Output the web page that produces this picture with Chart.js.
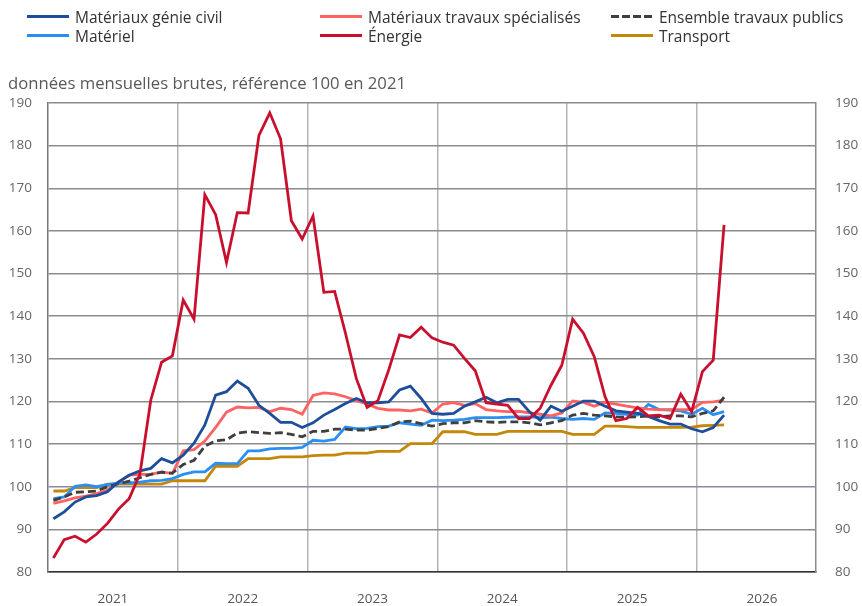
<!DOCTYPE html>
<html>
<head>
<meta charset="utf-8">
<script src="https://cdn.jsdelivr.net/npm/chart.js@4.4.1/dist/chart.umd.min.js"></script>
<style>
  body { margin: 0; background: #fff; font-family: "Open Sans", sans-serif; }
  #wrap { position: relative; width: 862px; height: 606px; }
  #canvas { position: absolute; left: 0; top: 0; }
  .leg { position: absolute; font-size: 15.5px; color: #333; white-space: nowrap; line-height: 20px; }
  .leg i { position: absolute; left: -48px; top: 8px; width: 42px; height: 3px; }
  #sub { position: absolute; left: 8px; top: 71px; font-size: 16.7px; color: #595959; white-space: nowrap; }
</style>
</head>
<body>
<div id="wrap">
  <canvas id="canvas" width="862" height="606"></canvas>
  <div id="legend"></div>
  <div id="sub">données mensuelles brutes, référence 100 en 2021</div>
</div>
<script>
// indices mensuels, janvier 2021 -> mars 2026
const months = [];
for (let y = 2021; y <= 2026; y++) {
  for (let m = 1; m <= 12; m++) {
    if (y === 2026 && m > 3) break;
    months.push(y + "-" + String(m).padStart(2, "0"));
  }
}
const years = ["2021", "2022", "2023", "2024", "2025", "2026"];

const genieCivil = [
  92.5, 94.1, 96.4, 97.6, 97.9, 98.8, 101.1, 102.7, 103.7, 104.3, 106.6, 105.6,
  107.4, 110.2, 114.5, 121.5, 122.3, 124.8, 123.1, 119.1, 117.2, 115.1, 115.1, 113.9,
  115.0, 116.8, 118.1, 119.5, 120.7, 119.7, 119.7, 119.9, 122.7, 123.6, 120.7, 117.2,
  117.0, 117.2, 118.9, 119.9, 121.0, 119.7, 120.5, 120.5, 117.6, 115.6, 118.9, 117.7,
  118.9, 120.1, 120.1, 118.9, 117.8, 117.5, 117.2, 116.5, 115.5, 114.7, 114.7, 113.6,
  112.9, 113.9, 116.8
];
const travauxSpec = [
  96.1, 96.7, 97.4, 97.8, 98.4, 99.2, 101.1, 102.7, 102.9, 102.9, 103.5, 103.1,
  108.4, 108.7, 110.7, 113.9, 117.5, 118.7, 118.5, 118.6, 117.6, 118.4, 118.1, 117.0,
  121.4, 122.0, 121.8, 121.1, 120.2, 119.4, 118.4, 118.0, 118.0, 117.8, 118.2, 117.3,
  119.4, 119.7, 119.1, 119.5, 118.1, 117.8, 117.6, 117.7, 117.3, 117.0, 116.6, 117.3,
  120.1, 119.8, 118.9, 119.8, 119.4, 118.9, 118.5, 118.2, 118.1, 118.1, 118.1, 118.1,
  119.8, 119.9, 120.3
];
const ensemble = [
  96.8, 97.6, 98.7, 98.8, 99.0, 100.0, 100.7, 101.3, 102.1, 102.9, 103.4, 103.2,
  105.2, 106.2, 109.5, 110.8, 111.0, 112.6, 112.9, 112.7, 112.5, 112.7, 112.3, 111.7,
  113.0, 113.0, 113.5, 113.5, 113.3, 113.3, 113.7, 114.1, 115.2, 115.4, 114.8, 114.2,
  114.8, 115.0, 115.0, 115.5, 115.2, 115.1, 115.2, 115.2, 115.0, 114.5, 115.0, 115.5,
  116.8, 117.2, 116.8, 116.6, 116.4, 116.3, 116.4, 116.6, 116.4, 116.6, 116.6, 116.4,
  117.2, 117.8, 121.0
];
const materiel = [
  97.2, 97.6, 100.1, 100.4, 100.0, 100.5, 100.9, 100.9, 101.1, 101.4, 101.5, 101.9,
  102.9, 103.5, 103.5, 105.5, 105.4, 105.4, 108.4, 108.4, 108.9, 109.0, 109.0, 109.2,
  110.9, 110.7, 111.1, 114.0, 113.6, 113.7, 114.1, 114.2, 115.0, 114.7, 114.4, 115.6,
  115.5, 115.6, 115.8, 116.2, 116.2, 116.2, 116.3, 116.4, 116.4, 116.2, 116.3, 116.0,
  115.8, 116.0, 115.8, 117.3, 117.2, 117.0, 116.8, 119.3, 118.1, 118.0, 117.8, 117.0,
  118.4, 116.9, 117.6
];
const energie = [
  83.3, 87.6, 88.4, 87.0, 88.9, 91.4, 94.7, 97.2, 103.0, 120.3, 129.2, 130.7,
  143.8, 139.3, 168.5, 163.8, 152.6, 164.3, 164.2, 182.4, 187.7, 181.6, 162.4, 158.1,
  163.5, 145.6, 145.8, 136.0, 125.4, 118.6, 120.2, 127.4, 135.6, 135.0, 137.4, 134.9,
  133.9, 133.2, 130.1, 127.2, 119.7, 119.4, 119.1, 116.0, 116.0, 118.4, 123.8, 128.5,
  139.3, 136.0, 130.5, 121.1, 115.5, 116.0, 118.6, 116.6, 116.8, 116.0, 121.7, 117.6,
  127.0, 129.7, 161.4
];
const transport = [
  99.0, 99.0, 99.8, 99.8, 99.8, 100.6, 100.6, 100.6, 100.6, 100.6, 100.6, 101.4,
  101.4, 101.4, 101.4, 104.8, 104.8, 104.8, 106.6, 106.6, 106.6, 107.0, 107.0, 107.0,
  107.3, 107.4, 107.4, 107.9, 107.9, 107.9, 108.3, 108.3, 108.3, 110.1, 110.1, 110.1,
  112.9, 112.9, 112.9, 112.3, 112.3, 112.3, 113.0, 113.0, 113.0, 113.0, 113.0, 113.0,
  112.3, 112.3, 112.3, 114.2, 114.2, 114.1, 113.9, 113.9, 113.9, 113.9, 113.9, 114.0,
  114.3, 114.4, 114.5
];

const series = [
  { label: "Matériaux génie civil", data: genieCivil, color: "#1d4e9b", order: 1 },
  { label: "Matériaux travaux spécialisés", data: travauxSpec, color: "#ff6262", order: 3 },
  { label: "Ensemble travaux publics", data: ensemble, color: "#3f3f3f", order: 2, dash: [8, 4] },
  { label: "Matériel", data: materiel, color: "#2b8ff2", order: 4 },
  { label: "Énergie", data: energie, color: "#c8102e", order: 0 },
  { label: "Transport", data: transport, color: "#c3870a", order: 5 },
];

// légende en 3 colonnes
const legCols = [75, 368, 659];
const legRows = [7, 26];
const legend = document.getElementById("legend");
series.forEach((s, k) => {
  const d = document.createElement("div");
  d.className = "leg";
  d.style.left = legCols[k % 3] + "px";
  d.style.top = legRows[Math.floor(k / 3)] + "px";
  const sw = document.createElement("i");
  sw.style.background = s.dash
    ? "repeating-linear-gradient(to right, " + s.color + " 0 8px, transparent 8px 11px)"
    : s.color;
  d.appendChild(sw);
  d.appendChild(document.createTextNode(s.label));
  legend.appendChild(d);
});

const xTicks = [6, 12, 18, 24, 30, 36, 42, 48, 54, 60, 66];
const tickFont = { family: "'Open Sans', sans-serif", size: 13.5 };

const ctx = document.getElementById("canvas").getContext("2d");
const chart = new Chart(ctx, {
  type: "line",
  data: {
    datasets: series.map(s => ({
      label: s.label,
      data: s.data.map((v, i) => ({ x: i + 0.5, y: v })),
      borderColor: s.color,
      backgroundColor: s.color,
      borderWidth: 2.8,
      borderDash: s.dash || [],
      pointRadius: 0,
      tension: 0,
      order: s.order,
    }))
  },
  options: {
    responsive: false,
    animation: false,
    layout: { padding: { top: 103, left: 0, right: 0, bottom: 0 } },
    plugins: { legend: { display: false }, tooltip: { enabled: false } },
    scales: {
      x: {
        type: "linear",
        min: 0,
        max: 71,
        afterBuildTicks: (scale) => { scale.ticks = xTicks.map(v => ({ value: v })); },
        afterFit: (scale) => { scale.height = 34; },
        grid: {
          drawTicks: false,
          lineWidth: 1.5,
          color: (c) => (c.tick && c.tick.value % 12 === 0) ? "#b4b4b4" : "rgba(0,0,0,0)",
        },
        border: { color: "#333", width: 1.5 },
        ticks: {
          autoSkip: false,
          maxRotation: 0,
          padding: 19,
          color: "#555",
          font: tickFont,
          callback: (v) => v % 12 === 6 ? years[(v - 6) / 12] : "",
        },
      },
      y: {
        position: "left",
        min: 80,
        max: 190,
        afterFit: (scale) => { scale.width = 48; },
        grid: {
          drawTicks: false,
          lineWidth: 1.5,
          color: (c) => c.tick && c.tick.value === 100 ? "#8a8aa8" : "#8c8c8c",
        },
        border: { color: "#777", width: 1.5 },
        ticks: { stepSize: 10, padding: 16, color: "#666", font: tickFont },
      },
      y2: {
        position: "right",
        min: 80,
        max: 190,
        afterFit: (scale) => { scale.width = 46; },
        grid: { display: false, drawTicks: false },
        border: { color: "#8c8c8c", width: 1.5 },
        ticks: { stepSize: 10, padding: 19, color: "#666", font: tickFont },
      },
    },
  },
});
</script>
</body>
</html>
